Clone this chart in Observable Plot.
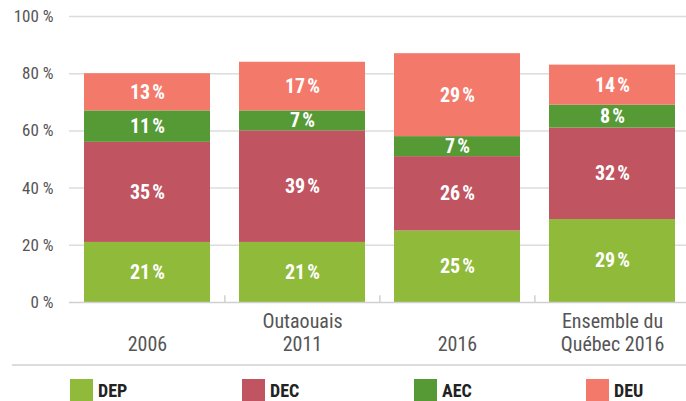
<!DOCTYPE html>
<html>
<head>
<meta charset="utf-8">
<script src="https://cdn.jsdelivr.net/npm/d3@7"></script>
<script src="https://cdn.jsdelivr.net/npm/@observablehq/plot@0.6"></script>
<style>
  html, body { margin: 0; padding: 0; background: #fff; overflow: hidden; }
  body { width: 686px; height: 401px; position: relative;
         font-family: "Liberation Sans Narrow", "Roboto Condensed", "DejaVu Sans Condensed", sans-serif; }
  #chart { position: absolute; left: 0; top: 0; }
  #sep { position: absolute; left: 12px; right: 0; top: 364px; height: 2px; background: #dcdcdc; }
  .leg { position: absolute; top: 379px; display: flex; align-items: flex-start; }
  .sw { width: 23px; height: 24px; }
  .lt { margin-left: 5px; font-weight: bold; font-size: 18px; color: #222; line-height: 24px; }
</style>
</head>
<body>
<div id="chart"></div>
<div id="sep"></div>
<div id="legend"></div>
<script>
const categories = ["2006", "Outaouais 2011", "2016", "Ensemble du Québec 2016"];
const categoryLabels = ["2006", "Outaouais\n2011", "2016", "Ensemble du\nQuébec 2016"];
const types = ["DEP", "DEC", "AEC", "DEU"];
const colors = ["#8fba3a", "#c05461", "#559a35", "#f37a6b"];
const DEP = [21, 21, 25, 29];
const DEC = [35, 39, 26, 32];
const AEC = [11, 7, 7, 8];
const DEU = [13, 17, 29, 14];
const yTicks = [0, 20, 40, 60, 80, 100];
const legendX = [70, 242, 414, 586];

const series = {DEP, DEC, AEC, DEU};
const data = [];
categories.forEach((c, i) => types.forEach(t => data.push({cat: c, type: t, value: series[t][i]})));
const labelOf = Object.fromEntries(categories.map((c, i) => [c, categoryLabels[i]]));

const W = 686, H = 362, ML = 69;
const step = (W - ML + 4) / categories.length;

const plot = Plot.plot({
  width: W, height: H,
  marginLeft: ML, marginRight: 0, marginTop: 16, marginBottom: 60,
  style: {fontFamily: '"Liberation Sans Narrow", "Roboto Condensed", "DejaVu Sans Condensed", sans-serif', background: "#fff"},
  x: {domain: categories, range: [ML, W + 4], paddingInner: 0.19, paddingOuter: 0.095, axis: null},
  y: {domain: [0, 100], axis: null},
  color: {domain: types, range: colors},
  marks: [
    Plot.ruleY(yTicks.filter(d => d > 0), {y: d => d, stroke: "#dcdcdc", strokeWidth: 1.5}),
    Plot.axisY({ticks: yTicks, tickSize: 0, tickPadding: 16, line: true, stroke: "#d0d0d0", strokeWidth: 1.5,
      tickFormat: d => d + " %", fontSize: 17, fill: "#555", label: null}),
    Plot.ruleX(categories.slice(1), {x: d => d, dx: -step / 2, y1: 0, y2: 2.4, stroke: "#d0d0d0", strokeWidth: 1.5}),
    Plot.barY(data, Plot.stackY({x: "cat", y: "value", fill: "type", order: types})),
    Plot.ruleY([0], {stroke: "#d0d0d0", strokeWidth: 1.5}),
    Plot.text(data, Plot.stackY({x: "cat", y: "value", z: "type", order: types,
      text: d => d.value + "\u200a%", fill: "#fff", fontSize: 20, fontWeight: "bold"})),
    Plot.text(categories, {x: d => d, frameAnchor: "bottom", lineAnchor: "bottom", dy: 48,
      text: d => labelOf[d], fontSize: 20, fill: "#555", lineHeight: 1.15})
  ]
});
document.getElementById("chart").appendChild(plot);

const leg = document.getElementById("legend");
types.forEach((t, i) => {
  const item = document.createElement("div");
  item.className = "leg";
  item.style.left = legendX[i] + "px";
  item.innerHTML = `<div class="sw" style="background:${colors[i]}"></div><div class="lt">${t}</div>`;
  leg.appendChild(item);
});
</script>
</body>
</html>
